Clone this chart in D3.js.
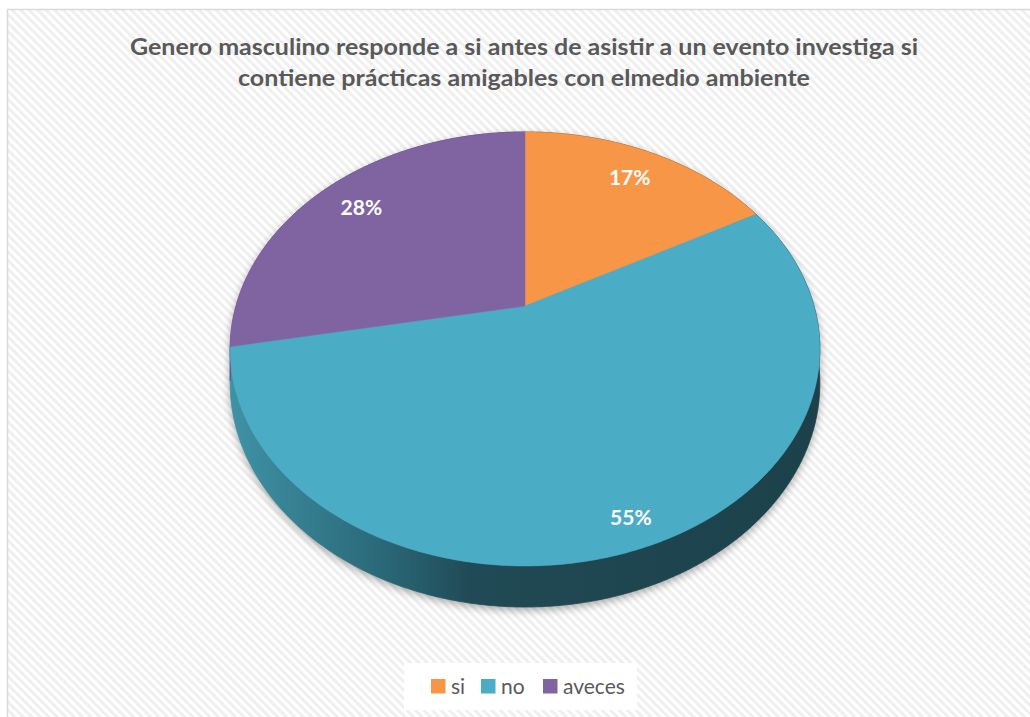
<!DOCTYPE html>
<html>
<head>
<meta charset="utf-8">
<script src="https://cdn.jsdelivr.net/npm/d3@7"></script>
<style>
  html, body { margin: 0; padding: 0; background: #ffffff; }
  svg { display: block; }
</style>
</head>
<body>
<svg id="chart" width="1030" height="717"></svg>
<script>
// Survey answers (percent of male respondents)
const categories = ["si", "no", "aveces"];
const values = [17, 55, 28];
const titleLines = [
  "Genero masculino responde a si antes de asistir a un evento investiga si",
  "contiene prácticas amigables con elmedio ambiente"
];

const topColors = ["#F79646", "#4BACC6", "#8064A2"];
const sideStops = [
  [["0", "#b86a2c"], ["0.4", "#8f4f1e"], ["1", "#7a4318"]],
  [["0", "#3f93a6"], ["0.26", "#2a6878"], ["0.41", "#204a55"], ["1", "#1c414b"]],
  [["0", "#6a5190"], ["0.4", "#4f3c6b"], ["1", "#453460"]]
];

const svg = d3.select("#chart");
const defs = svg.append("defs");

// Diagonal hatched chart background
const pat = defs.append("pattern")
  .attr("id", "hatch")
  .attr("patternUnits", "userSpaceOnUse")
  .attr("width", 6).attr("height", 6)
  .attr("patternTransform", "rotate(-45)");
pat.append("rect").attr("width", 6).attr("height", 6).attr("fill", "#ffffff");
pat.append("rect").attr("width", 3).attr("height", 6).attr("fill", "#efefef");

svg.append("rect")
  .attr("x", 7.5).attr("y", 9.5)
  .attr("width", 1040).attr("height", 730)
  .attr("fill", "url(#hatch)")
  .attr("stroke", "#d9d9d9").attr("stroke-width", 1.5);

// Title
const title = svg.append("g")
  .attr("font-family", "Lato, 'Open Sans', sans-serif")
  .attr("font-weight", "bold")
  .attr("font-size", 23)
  .attr("fill", "#595959")
  .attr("text-anchor", "middle");
const titleWidths = [788, 572];
titleLines.forEach((t, i) => {
  title.append("text")
    .attr("x", 524).attr("y", 55 + i * 31)
    .attr("textLength", titleWidths[i])
    .attr("lengthAdjust", "spacingAndGlyphs")
    .text(t);
});

// Perspective projection of a tilted disc
const cx = 525, cy = 306;   // projected centre
const rxS = 289, ryS = 208.5; // horizontal / vertical scale
const persp = 0.198;        // depth foreshortening
const thick = 32.9;         // side wall height
function proj(theta, r, drop) {
  const s = Math.sin(theta), c = Math.cos(theta);
  const w = 1 + persp * r * c;
  return [cx + rxS * r * s / w, cy - ryS * r * c / w + (drop ? thick / w : 0)];
}
function edge(a0, a1, drop) {
  const n = Math.max(2, Math.ceil(Math.abs(a1 - a0) / (Math.PI / 360)));
  return d3.range(n + 1).map(i => proj(a0 + (a1 - a0) * i / n, 1, drop));
}

const pie = d3.pie().sort(null).value(d => d)(values);
const line = d3.line();

// Side gradients
sideStops.forEach((stops, i) => {
  const g = defs.append("linearGradient")
    .attr("id", "side" + i)
    .attr("gradientUnits", "userSpaceOnUse")
    .attr("x1", 228).attr("x2", 822).attr("y1", 0).attr("y2", 0);
  stops.forEach(s => g.append("stop").attr("offset", s[0]).attr("stop-color", s[1]));
});

// Soft drop shadow under the pie
const blur = defs.append("filter").attr("id", "shadow")
  .attr("x", "-10%").attr("y", "-10%").attr("width", "120%").attr("height", "130%");
blur.append("feGaussianBlur").attr("stdDeviation", 4);

const allPts = edge(0, 2 * Math.PI, false).concat(edge(0, 2 * Math.PI, true));
const hull = d3.polygonHull(allPts);
svg.append("path")
  .attr("d", line(hull) + "Z")
  .attr("transform", "translate(0,3)")
  .attr("fill", "#000")
  .attr("opacity", 0.35)
  .attr("filter", "url(#shadow)");

// Side walls
const sides = svg.append("g");
pie.forEach((d, i) => {
  const top = edge(d.startAngle, d.endAngle, false);
  const bot = edge(d.startAngle, d.endAngle, true).reverse();
  sides.append("path")
    .attr("d", line(top.concat(bot)) + "Z")
    .attr("fill", "url(#side" + i + ")")
    .attr("stroke", "url(#side" + i + ")")
    .attr("stroke-width", 0.8);
});

// Top faces
const tops = svg.append("g");
pie.forEach((d, i) => {
  const pts = [[cx, cy]].concat(edge(d.startAngle, d.endAngle, false));
  tops.append("path")
    .attr("d", line(pts) + "Z")
    .attr("fill", topColors[i])
    .attr("stroke", topColors[i])
    .attr("stroke-width", 0.5);
});

// Percentage labels
const labelR = [0.81, 0.9, 0.81];
const labels = svg.append("g")
  .attr("font-family", "Lato, 'Open Sans', sans-serif")
  .attr("font-weight", "bold")
  .attr("font-size", 21)
  .attr("fill", "#ffffff")
  .attr("text-anchor", "middle");
pie.forEach((d, i) => {
  const mid = (d.startAngle + d.endAngle) / 2;
  const p = proj(mid, labelR[i], false);
  labels.append("text")
    .attr("x", p[0]).attr("y", p[1] + 7)
    .text(d3.format(".0f")(d.value) + "%");
});

// Legend
const legend = svg.append("g");
legend.append("rect")
  .attr("x", 404).attr("y", 663).attr("width", 233).attr("height", 47)
  .attr("fill", "#ffffff");
const legX = [431, 481, 543];
categories.forEach((c, i) => {
  legend.append("rect")
    .attr("x", legX[i]).attr("y", 679).attr("width", 14.5).attr("height", 14.5)
    .attr("fill", topColors[i]);
  legend.append("text")
    .attr("x", legX[i] + 20).attr("y", 694)
    .attr("font-family", "Lato, 'Open Sans', sans-serif")
    .attr("font-size", 21)
    .attr("fill", "#595959")
    .text(c);
});
</script>
</body>
</html>
